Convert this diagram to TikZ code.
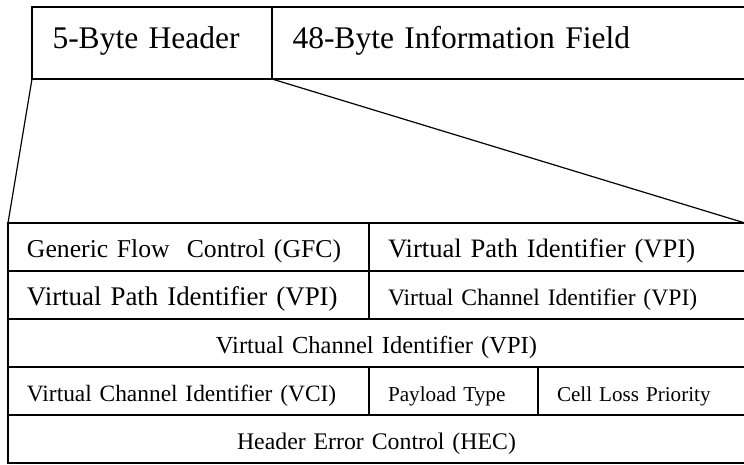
\documentclass[tikz,border=0pt]{standalone}
\usepackage{fontspec}
\setmainfont{Liberation Serif}
\usetikzlibrary{positioning}

\begin{document}
\begin{tikzpicture}[x=1pt, y=-1pt,
        cell/.style={draw, rectangle, line width=1.2pt, outer sep=0pt, minimum height=48pt, inner xsep=19pt, inner ysep=0pt, text height=21pt, text depth=0pt, anchor=north west, align=left},
        midcell/.style={cell, align=center},
        topcell/.style={cell, minimum height=72pt, inner xsep=20.5pt, text height=22pt, text depth=12pt, font=\fontsize{31.5}{36}\selectfont},
        link/.style={line width=1.2pt}
    ]
        \clip (0,0) rectangle (744,464);

        % Celula ATM
        \node[topcell, text width=199pt] (hdr) at (32,7) {5-Byte Header};
        \node[topcell, text width=500pt, right=0pt of hdr] (info) {48-Byte Information Field};

        % Cabecalho: linhas 1 e 2
        \node[cell, text width=323pt, font=\fontsize{25.7}{30}\selectfont] (gfc) at (8,223) {Generic Flow\ \ Control (GFC)};
        \node[cell, text width=338pt, font=\fontsize{26.6}{30}\selectfont, right=0pt of gfc] (vpia) {Virtual Path Identifier (VPI)};
        \node[cell, text width=323pt, font=\fontsize{26.9}{30}\selectfont, below=0pt of gfc] (vpib) {Virtual Path Identifier (VPI)};
        \node[cell, text width=338pt, font=\fontsize{23.6}{28}\selectfont, right=0pt of vpib] (vcia) {Virtual Channel Identifier (VPI)};

        % Cabecalho: linha 3
        \node[midcell, text width=699pt, font=\fontsize{24.5}{28}\selectfont, below=0pt of vpib.south west, anchor=north west] (vcib) {Virtual Channel Identifier (VPI)};

        % Cabecalho: linha 4
        \node[cell, text width=323pt, font=\fontsize{23.4}{28}\selectfont, below=0pt of vcib.south west, anchor=north west] (vcic) {Virtual Channel Identifier (VCI)};
        \node[cell, text width=131pt, font=\fontsize{21.2}{25}\selectfont, right=0pt of vcic] (pt) {Payload Type};
        \node[cell, text width=169pt, font=\fontsize{21.1}{25}\selectfont, right=0pt of pt] (clp) {Cell Loss Priority};

        % Cabecalho: linha 5
        \node[midcell, text width=699pt, font=\fontsize{23.8}{28}\selectfont, below=0pt of vcic.south west, anchor=north west] (hec) {Header Error Control (HEC)};

        % Expansao
        \draw[link] (hdr.south west) -- (gfc.north west);
        \draw[link] (hdr.south east) -- (vpia.north east);
    \end{tikzpicture}
\end{document}
